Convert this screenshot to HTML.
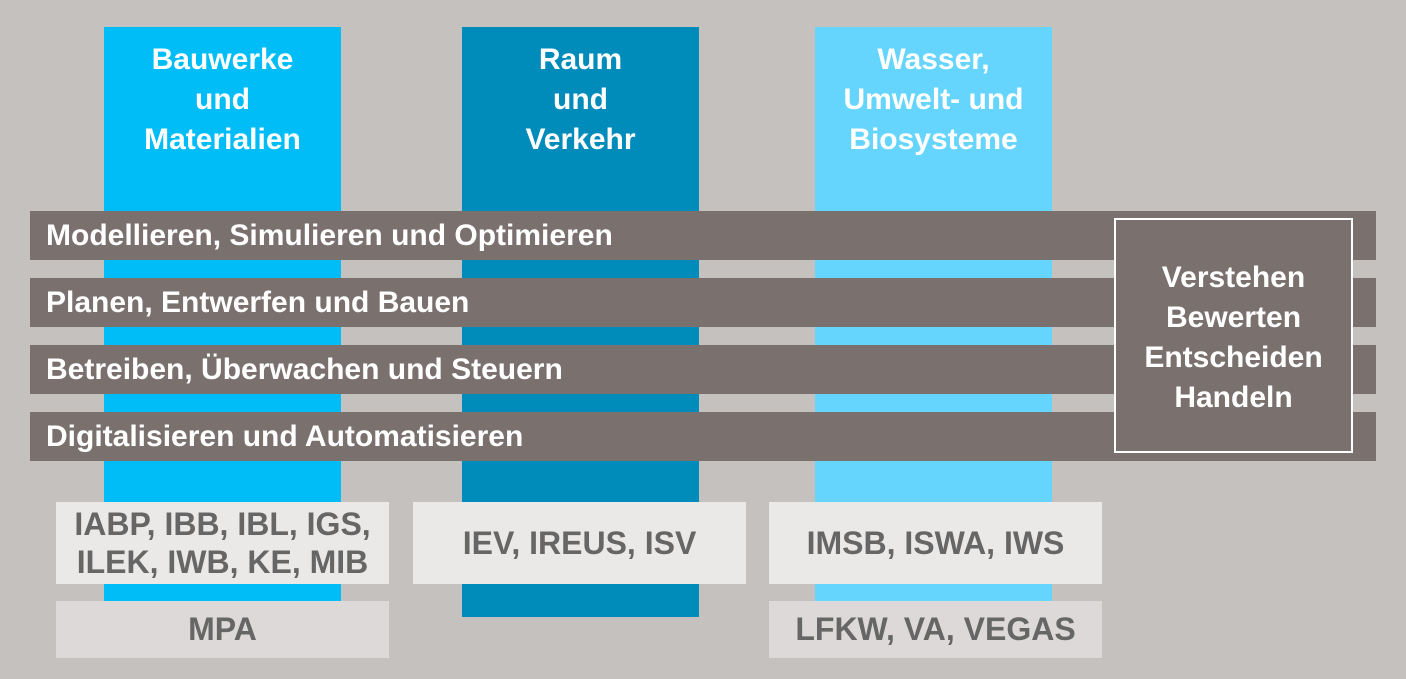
<!DOCTYPE html>
<html><head><meta charset="utf-8"><style>
body{margin:0;width:1406px;height:679px;background:#c5c1bf;position:relative;overflow:hidden;font-family:"Liberation Sans",Arial,sans-serif;font-weight:bold}
div{position:absolute;box-sizing:border-box}
.col{top:27px;width:237px;color:#fff;font-size:30px;line-height:40px;text-align:center;padding-top:13px}
.bar{left:30px;width:1346px;height:49px;background:#7a716f;color:#fff;font-size:30px;line-height:49px;padding-left:16px}
.lb{background:#ebe9e8;color:#666;font-size:32px;text-align:center;display:flex;align-items:center;justify-content:center;line-height:38px}
.lb2{background:#dcd9d8;color:#666;font-size:32px;text-align:center;display:flex;align-items:center;justify-content:center}
</style></head><body>
<div class="col" style="left:104px;height:574px;background:#00bdf7">Bauwerke<br>und<br>Materialien</div>
<div class="col" style="left:462px;height:590px;background:#008cbb">Raum<br>und<br>Verkehr</div>
<div class="col" style="left:815px;height:574px;background:#66d5fe">Wasser,<br>Umwelt- und<br>Biosysteme</div>
<div class="bar" style="top:211px">Modellieren, Simulieren und Optimieren</div>
<div class="bar" style="top:278px">Planen, Entwerfen und Bauen</div>
<div class="bar" style="top:345px">Betreiben, Überwachen und Steuern</div>
<div class="bar" style="top:412px">Digitalisieren und Automatisieren</div>
<div style="left:1114px;top:218px;width:239px;height:235px;background:#7a716f;border:2px solid #fff;color:#fff;font-size:30px;line-height:40px;text-align:center;padding-top:38px">Verstehen<br>Bewerten<br>Entscheiden<br>Handeln</div>
<div class="lb" style="left:56px;top:502px;width:333px;height:82px">IABP, IBB, IBL, IGS,<br>ILEK, IWB, KE, MIB</div>
<div class="lb" style="left:413px;top:502px;width:333px;height:82px">IEV, IREUS, ISV</div>
<div class="lb" style="left:769px;top:502px;width:333px;height:82px">IMSB, ISWA, IWS</div>
<div class="lb2" style="left:56px;top:601px;width:333px;height:57px">MPA</div>
<div class="lb2" style="left:769px;top:601px;width:333px;height:57px">LFKW, VA, VEGAS</div>
</body></html>
